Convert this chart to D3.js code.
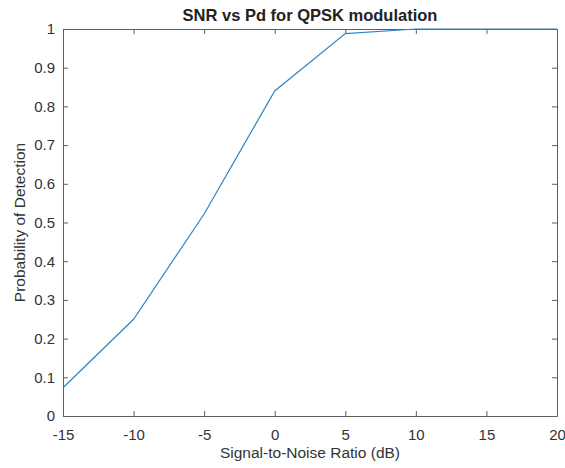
<!DOCTYPE html>
<html>
<head>
<meta charset="utf-8">
<script src="https://cdn.jsdelivr.net/npm/d3@7"></script>
<style>
  html, body { margin: 0; padding: 0; background: #fff; }
  svg { display: block; font-family: "Liberation Sans", Arial, sans-serif; }
</style>
</head>
<body>
<svg id="chart" width="565" height="468"></svg>
<script>
// Detection probability versus SNR for QPSK
const snrDb = [-15, -10, -5, 0, 5, 10, 15, 20];
const pd = [0.073, 0.25, 0.522, 0.84, 0.988, 1.0, 1.0, 1.0];
const xTicks = [-15, -10, -5, 0, 5, 10, 15, 20];
const yTicks = [0, 0.1, 0.2, 0.3, 0.4, 0.5, 0.6, 0.7, 0.8, 0.9, 1];

const title = "SNR vs Pd for QPSK modulation";
const xLabel = "Signal-to-Noise Ratio (dB)";
const yLabel = "Probability of Detection";

const svg = d3.select("#chart");
const L = 63, R = 557, T = 29, B = 416;
const axisColor = "#5e5e5e";
const textColor = "#333";

const x = d3.scaleLinear().domain([-15, 20]).range([L, R]);
const y = d3.scaleLinear().domain([0, 1]).range([B, T]);

const fmt = d => String(d);

// bottom / left axes with inward ticks
const gx = svg.append("g").attr("transform", `translate(0,${B})`)
  .call(d3.axisBottom(x).tickValues(xTicks).tickFormat(fmt).tickSizeInner(-5).tickSizeOuter(0).tickPadding(13));
const gy = svg.append("g").attr("transform", `translate(${L},0)`)
  .call(d3.axisLeft(y).tickValues(yTicks).tickFormat(fmt).tickSizeInner(-5).tickSizeOuter(0).tickPadding(8));
// top / right mirrored ticks (box)
const gt = svg.append("g").attr("transform", `translate(0,${T})`)
  .call(d3.axisTop(x).tickValues(xTicks).tickFormat("").tickSizeInner(-5).tickSizeOuter(0));
const gr = svg.append("g").attr("transform", `translate(${R},0)`)
  .call(d3.axisRight(y).tickValues(yTicks).tickFormat("").tickSizeInner(-5).tickSizeOuter(0));

[gx, gy, gt, gr].forEach(g => {
  g.select(".domain").attr("stroke", axisColor).attr("stroke-width", 1);
  g.selectAll(".tick line").attr("stroke", axisColor).attr("stroke-width", 1);
  g.selectAll(".tick text").attr("fill", textColor).style("font-size", "15px")
    .style("font-family", "'Liberation Sans', Arial, sans-serif");
});

// data line
const line = d3.line().x((d, i) => x(snrDb[i])).y(d => y(d));
svg.append("path")
  .datum(pd)
  .attr("d", line)
  .attr("fill", "none")
  .attr("stroke", "#2f86c0")
  .attr("stroke-width", 1.2);

// titles
svg.append("text")
  .attr("x", (L + R) / 2).attr("y", 21)
  .attr("text-anchor", "middle")
  .attr("font-weight", "bold")
  .attr("font-size", 16.5)
  .attr("fill", "#222")
  .text(title);

svg.append("text")
  .attr("x", (L + R) / 2).attr("y", 458)
  .attr("text-anchor", "middle")
  .attr("font-size", 15.5)
  .attr("fill", textColor)
  .text(xLabel);

svg.append("text")
  .attr("transform", `translate(25,${(T + B) / 2}) rotate(-90)`)
  .attr("text-anchor", "middle")
  .attr("font-size", 15.5)
  .attr("fill", textColor)
  .text(yLabel);
</script>
</body>
</html>
